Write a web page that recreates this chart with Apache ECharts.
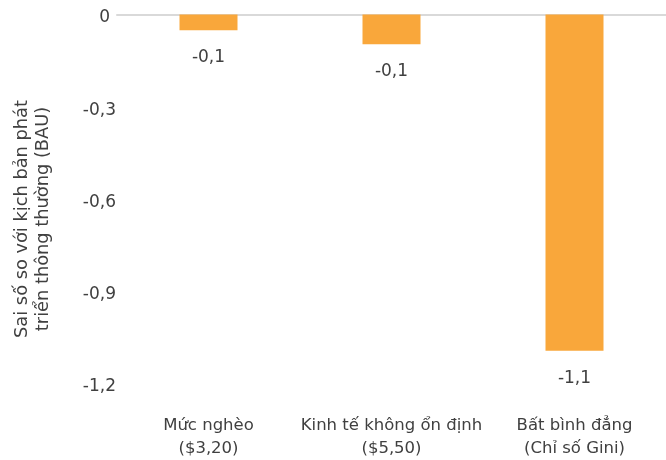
<!DOCTYPE html>
<html>
<head>
<meta charset="utf-8">
<script src="https://cdn.jsdelivr.net/npm/echarts@6/dist/echarts.min.js"></script>
<style>
  html, body { margin: 0; padding: 0; background: #fff; }
  #chart { width: 666px; height: 460px; }
</style>
</head>
<body>
<div id="chart"></div>
<script>
// Categories (two-line labels) and deviation from the BAU scenario
const categories = [
  'Mức nghèo\n($3,20)',
  'Kinh tế không ổn định\n($5,50)',
  'Bất bình đẳng\n(Chỉ số Gini)'
];
const deviation = [-0.051, -0.097, -1.095];
const yTicks = [0, -0.3, -0.6, -0.9, -1.2];
const yAxisTitle = ['Sai số so với kịch bản phát', 'triển thông thường (BAU)'];

const FONT = 'DejaVu Sans';
const TEXT = '#404040';
const BAR = '#F9A73B';

const fmt = v => (v === 0 ? '0' : v.toFixed(1).replace('.', ','));

const chart = echarts.init(document.getElementById('chart'), null, { renderer: 'canvas' });
chart.setOption({
  animation: false,
  grid: { left: 117, right: -6, top: 14.5, bottom: 76 },
  xAxis: [
    {
      type: 'category',
      data: categories,
      position: 'bottom',
      axisLine: { show: false, onZero: false },
      axisTick: { show: false },
      axisLabel: {
        interval: 0,
        margin: 31,
        fontFamily: FONT,
        fontSize: 16.5,
        lineHeight: 23,
        color: TEXT
      }
    },
    {
      // zero baseline along the top of the plot
      type: 'category',
      data: categories,
      position: 'top',
      axisLine: { show: true, onZero: false, lineStyle: { color: '#D9D9D9', width: 2 } },
      axisTick: { show: false },
      axisLabel: { show: false }
    }
  ],
  yAxis: {
    type: 'value',
    min: yTicks[yTicks.length - 1],
    max: yTicks[0],
    interval: 0.3,
    axisLine: { show: false },
    axisTick: { show: false },
    splitLine: { show: false },
    axisLabel: {
      margin: 1,
      fontFamily: FONT,
      fontSize: 17,
      color: TEXT,
      padding: [7, 0, 0, 0],
      formatter: v => {
        const r = Math.round(v * 10) / 10;
        return r === 0 ? '{z|0}' : fmt(r);
      },
      rich: { z: { fontFamily: FONT, fontSize: 17, color: TEXT, padding: [0, 6, 0, 0] } }
    }
  },
  graphic: [
    {
      type: 'text',
      x: 33,
      y: 219,
      rotation: Math.PI / 2,
      style: {
        text: yAxisTitle.join('\n'),
        fontFamily: FONT,
        fontSize: 17.8,
        lineHeight: 21,
        fill: TEXT,
        textAlign: 'center',
        textVerticalAlign: 'middle'
      }
    }
  ],
  series: [
    {
      type: 'bar',
      data: deviation,
      xAxisIndex: 0,
      barWidth: 58,
      itemStyle: { color: BAR },
      label: {
        show: true,
        position: 'bottom',
        distance: 19,
        fontFamily: FONT,
        fontSize: 17,
        color: TEXT,
        formatter: p => fmt(p.value)
      }
    }
  ]
});
</script>
</body>
</html>
